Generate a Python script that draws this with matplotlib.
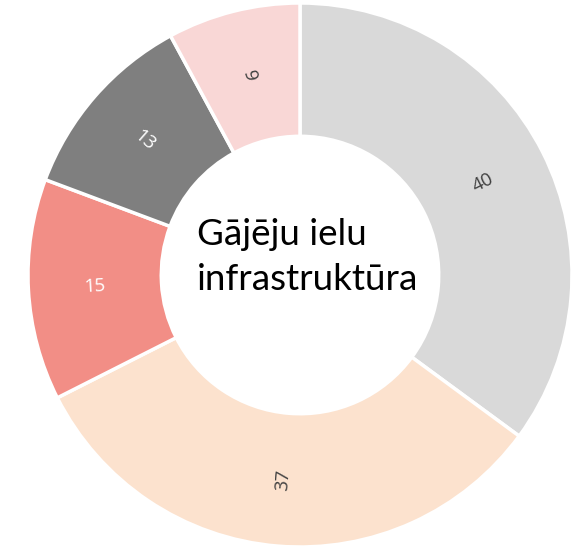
import numpy as np
import matplotlib.pyplot as plt

# data
values = [40, 37, 15, 13, 9]
colors = ["#D9D9D9", "#FCE2CE", "#F28E86", "#7F7F7F", "#F9D7D6"]
label_colors = ["#404040", "#404040", "white", "white", "#404040"]
center_text = "Gājēju ielu\ninfrastruktūra"

fig = plt.figure(figsize=(5.82, 5.47), dpi=100)
ax = fig.add_axes([0, 0, 1, 1])

cx, cy, r = 300, 272, 272
width = 0.49 * r

wedges, _ = ax.pie(values, colors=colors, startangle=90, counterclock=False,
                   center=(cx, cy), radius=r, frame=True,
                   wedgeprops=dict(width=width, edgecolor="white", linewidth=2.5))
ax.set_xlim(0, 582)
ax.set_ylim(0, 547)
ax.set_aspect("equal")
ax.axis("off")

# labels along the middle of the ring, rotated radially
for w, v, c in zip(wedges, values, label_colors):
    ang = (w.theta1 + w.theta2) / 2
    rr = r - width / 2
    x = cx + rr * np.cos(np.radians(ang))
    y = cy + rr * np.sin(np.radians(ang))
    rot = (ang + 180) % 360 - 180
    if rot > 90:
        rot -= 180
    elif rot < -90:
        rot += 180
    ax.text(x, y, str(v), ha="center", va="center", rotation=rot,
            rotation_mode="anchor", color=c, fontsize=13.5, family="Open Sans")

ax.text(197, 290, center_text, ha="left", va="center", fontsize=26.5,
        family="Lato", linespacing=1.45, color="black")

fig.savefig("out.png", dpi=100)
